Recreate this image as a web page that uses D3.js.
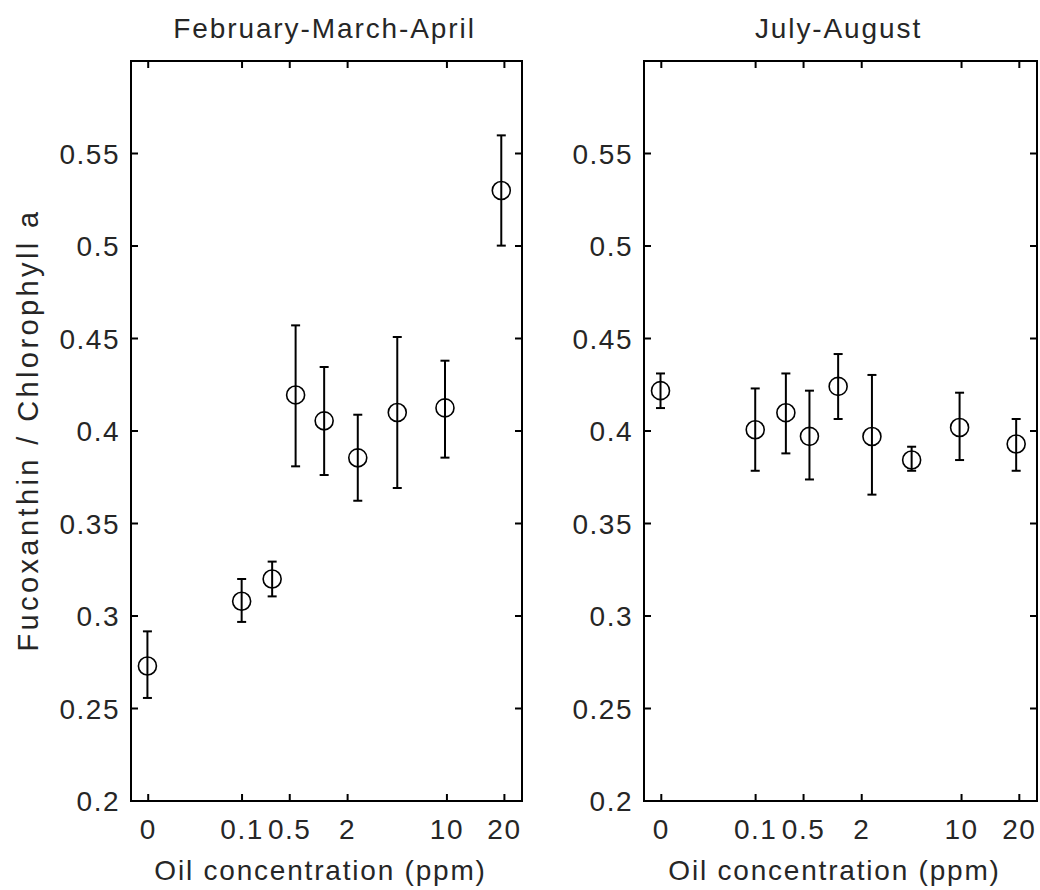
<!DOCTYPE html>
<html>
<head>
<meta charset="utf-8">
<script src="https://cdn.jsdelivr.net/npm/d3@7.9.0/dist/d3.min.js"></script>
<style>
  body { margin: 0; background: #fff; }
  svg text { font-family: "Liberation Sans", Arial, sans-serif; fill: #262626; }
</style>
</head>
<body>
<svg id="chart" width="1040" height="890"></svg>
<script>
// treatment positions along the x axis (axis units, 0-100 across the box)
const xPos = [4.2, 28.3, 36.1, 42.1, 49.4, 58.0, 68.1, 80.3, 94.7];
const xTickPos = [4.4, 28.4, 40.6, 55.4, 80.8, 95.5];
const xTickLabels = ['0', '0.1', '0.5', '2', '10', '20'];
const yTicks = [0.2, 0.25, 0.3, 0.35, 0.4, 0.45, 0.5, 0.55, 0.6];
const yTickLabels = ['0.2', '0.25', '0.3', '0.35', '0.4', '0.45', '0.5', '0.55', ''];

const springMean  = [0.273, 0.308, 0.320, 0.4195, 0.4055, 0.3855, 0.410, 0.4125, 0.530];
const springUpper = [0.2917, 0.320, 0.3294, 0.4571, 0.4346, 0.4088, 0.4508, 0.438, 0.5598];
const springLower = [0.2557, 0.2968, 0.3106, 0.3809, 0.3762, 0.3623, 0.3692, 0.3856, 0.5002];

const summerMean  = [0.4218, 0.4007, 0.4099, 0.3971, 0.4241, 0.397, 0.3843, 0.4019, 0.393];
const summerUpper = [0.4311, 0.423, 0.4311, 0.4218, 0.4416, 0.4303, 0.3915, 0.4207, 0.4065];
const summerLower = [0.4124, 0.3785, 0.3879, 0.3738, 0.4065, 0.3656, 0.3785, 0.3843, 0.3785];

const svg = d3.select('#chart');
const plotTop = 61, plotBottom = 801;

function drawPanel(left, right, title, mean, lower, upper) {
    let x = d3.scaleLinear().domain([0, 100]).range([left, right]);
    let y = d3.scaleLinear().domain([0.2, 0.6]).range([plotBottom, plotTop]);
    let g = svg.append('g');
    let tickLen = 7;

    // ticks on all four sides, pointing inward
    g.selectAll('.xt-bottom').data(xTickPos).join('line')
        .attr('class', 'xt-bottom')
        .attr('x1', d => x(d)).attr('x2', d => x(d))
        .attr('y1', plotBottom).attr('y2', plotBottom - tickLen)
        .attr('stroke', '#000').attr('stroke-width', 2);
    g.selectAll('.xt-top').data(xTickPos).join('line')
        .attr('class', 'xt-top')
        .attr('x1', d => x(d)).attr('x2', d => x(d))
        .attr('y1', plotTop).attr('y2', plotTop + tickLen)
        .attr('stroke', '#000').attr('stroke-width', 2);
    g.selectAll('.yt-left').data(yTicks).join('line')
        .attr('class', 'yt-left')
        .attr('x1', left).attr('x2', left + tickLen)
        .attr('y1', d => y(d)).attr('y2', d => y(d))
        .attr('stroke', '#000').attr('stroke-width', 2);
    g.selectAll('.yt-right').data(yTicks).join('line')
        .attr('class', 'yt-right')
        .attr('x1', right).attr('x2', right - tickLen)
        .attr('y1', d => y(d)).attr('y2', d => y(d))
        .attr('stroke', '#000').attr('stroke-width', 2);

    g.append('rect')
        .attr('x', left).attr('y', plotTop)
        .attr('width', right - left).attr('height', plotBottom - plotTop)
        .attr('fill', 'none').attr('stroke', '#000').attr('stroke-width', 2);

    // tick labels
    g.selectAll('.xl').data(xTickPos).join('text')
        .attr('class', 'xl')
        .attr('x', d => x(d)).attr('y', 839)
        .attr('text-anchor', 'middle')
        .style('font-size', '28px').style('letter-spacing', '1.5px')
        .text((d, i) => xTickLabels[i]);
    g.selectAll('.yl').data(yTicks).join('text')
        .attr('class', 'yl')
        .attr('x', left - 11).attr('y', d => y(d) + 10)
        .attr('text-anchor', 'end')
        .style('font-size', '28px').style('letter-spacing', '1.5px')
        .text((d, i) => yTickLabels[i]);

    g.append('text')
        .attr('x', (left + right) / 2 - 2).attr('y', 38)
        .attr('text-anchor', 'middle')
        .style('font-size', '28px').style('letter-spacing', '1.9px')
        .text(title);
    g.append('text')
        .attr('x', (left + right) / 2 - 6).attr('y', 880)
        .attr('text-anchor', 'middle')
        .style('font-size', '28px').style('letter-spacing', '1.8px')
        .text('Oil concentration (ppm)');

    // error bars
    let bars = g.selectAll('.err').data(mean).join('g').attr('class', 'err');
    bars.append('line')
        .attr('x1', (d, i) => x(xPos[i])).attr('x2', (d, i) => x(xPos[i]))
        .attr('y1', (d, i) => y(lower[i])).attr('y2', (d, i) => y(upper[i]))
        .attr('stroke', '#000').attr('stroke-width', 2);
    [lower, upper].forEach(arr => {
        bars.append('line')
            .attr('x1', (d, i) => x(xPos[i]) - 4.5).attr('x2', (d, i) => x(xPos[i]) + 4.5)
            .attr('y1', (d, i) => y(arr[i])).attr('y2', (d, i) => y(arr[i]))
            .attr('stroke', '#000').attr('stroke-width', 2);
    });

    g.selectAll('.pt').data(mean).join('circle')
        .attr('class', 'pt')
        .attr('cx', (d, i) => x(xPos[i])).attr('cy', d => y(d))
        .attr('r', 9)
        .attr('fill', 'none').attr('stroke', '#000').attr('stroke-width', 1.6);
}

drawPanel(131, 522, 'February-March-April', springMean, springLower, springUpper);
drawPanel(644, 1037, 'July-August', summerMean, summerLower, summerUpper);

svg.append('text')
    .attr('transform', 'translate(38,430) rotate(-90)')
    .attr('text-anchor', 'middle')
    .style('font-size', '29px').style('letter-spacing', '3.4px')
    .text('Fucoxanthin / Chlorophyll a');
</script>
</body>
</html>
